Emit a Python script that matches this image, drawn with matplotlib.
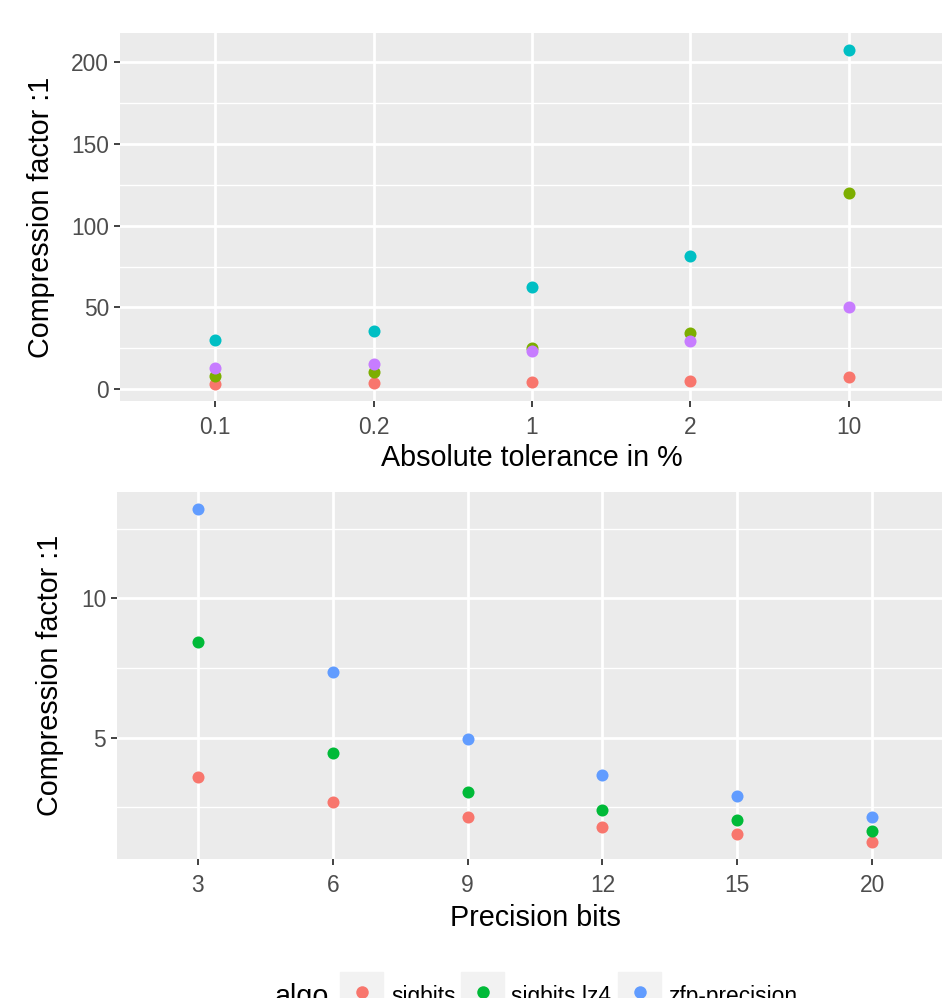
import numpy as np
import matplotlib.pyplot as plt
from matplotlib.patches import Rectangle
from matplotlib.lines import Line2D

plt.rcParams['font.family'] = ['Liberation Sans', 'DejaVu Sans']

# top panel: absolute tolerance
tol_labels = ['0.1', '0.2', '1', '2', '10']
tol_a = [2.9, 3.5, 4.5, 5.1, 7.6]        # red
tol_b = [7.8, 10.4, 25.3, 34.3, 120.3]   # olive
tol_c = [30.0, 35.5, 62.4, 81.6, 207.8]  # cyan
tol_d = [12.8, 15.1, 23.2, 29.6, 50.4]   # purple

# bottom panel: precision bits
bits_labels = ['3', '6', '9', '12', '15', '20']
sigbits = [3.58, 2.68, 2.13, 1.77, 1.52, 1.23]
sigbits_lz4 = [8.44, 4.46, 3.03, 2.40, 2.02, 1.63]
zfp_precision = [13.23, 7.36, 4.94, 3.66, 2.91, 2.14]
algo_names = ['sigbits', 'sigbits lz4', 'zfp-precision']

cols4 = ['#F8766D', '#7CAE00', '#00BFC4', '#C77CFF']
cols3 = ['#F8766D', '#00BA38', '#619CFF']

W, H = 942, 998
fig = plt.figure(figsize=(W / 100, H / 100), dpi=100)

TICK_FS = 16.4
TITLE_FS = 20.7


def px_axes(l, t, r, b):
    return fig.add_axes([l / W, 1 - b / H, (r - l) / W, (b - t) / H])


def gg_style(ax, ticks, minor):
    ax.set_facecolor('#EBEBEB')
    for s in ax.spines.values():
        s.set_visible(False)
    ax.set_yticks(ticks)
    ax.set_yticks(minor, minor=True)
    ax.grid(which='major', color='white', lw=2.0)
    ax.grid(which='minor', axis='y', color='white', lw=1.0)
    ax.set_axisbelow(True)
    ax.tick_params(which='major', length=4.3, width=1.3, color='#333333',
                   labelcolor='#4D4D4D', labelsize=TICK_FS, pad=3.5)
    ax.tick_params(axis='x', which='major', pad=6.3)
    ax.tick_params(which='minor', length=0)


ax1 = px_axes(120, 33, 944, 401)
x1 = np.arange(len(tol_labels))
for vals, c in zip([tol_a, tol_b, tol_c, tol_d], cols4):
    ax1.scatter(x1, vals, s=75, color=c, lw=0, zorder=3)
ax1.set_xticks(x1)
ax1.set_xticklabels(tol_labels)
ax1.set_xlim(-0.6, len(tol_labels) - 0.4)
ax1.set_ylim(-7.3, 218)
gg_style(ax1, [0, 50, 100, 150, 200], [25, 75, 125, 175])
ax1.set_xlabel('Absolute tolerance in %', fontsize=TITLE_FS, labelpad=4)
ax1.set_ylabel('Compression factor :1', fontsize=TITLE_FS, labelpad=12)

ax2 = px_axes(117, 492, 953, 859)
x2 = np.arange(len(bits_labels))
for vals, c in zip([sigbits, sigbits_lz4, zfp_precision], cols3):
    ax2.scatter(x2, vals, s=75, color=c, lw=0, zorder=3)
ax2.set_xticks(x2)
ax2.set_xticklabels(bits_labels)
ax2.set_xlim(-0.6, len(bits_labels) - 0.4)
ax2.set_ylim(0.63, 13.83)
gg_style(ax2, [5, 10], [2.5, 7.5, 12.5])
ax2.set_xlabel('Precision bits', fontsize=TITLE_FS, labelpad=5)
ax2.set_ylabel('Compression factor :1', fontsize=TITLE_FS, labelpad=12)

# legend at the bottom (cut off like the original)
fig.text(275 / W, 1 - 997 / H, 'algo', fontsize=TITLE_FS, va='center', ha='left')
key_x = [340, 461, 618]
lab_x = [391, 511, 668]
for kx, lx, c, name in zip(key_x, lab_x, cols3, algo_names):
    fig.patches.append(Rectangle((kx / W, 1 - 1015 / H), 43 / W, 43 / H,
                                 transform=fig.transFigure, color='#F2F2F2'))
    fig.lines.append(Line2D([(kx + 21.5) / W], [1 - 992 / H], marker='o',
                            markersize=9, color=c, mew=0,
                            transform=fig.transFigure))
    fig.text(lx / W, 1 - 997 / H, name, fontsize=TICK_FS, va='center', ha='left')

fig.savefig('out.png', dpi=100)
